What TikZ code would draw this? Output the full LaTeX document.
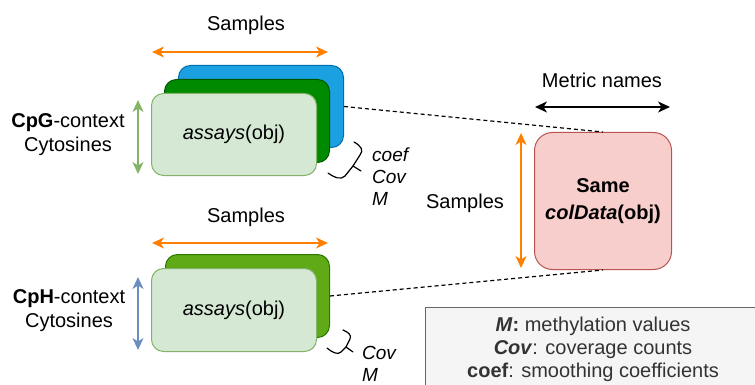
\documentclass[tikz,border=0pt]{standalone}
\usepackage{fontspec}
\setmainfont{Liberation Sans}
\usetikzlibrary{arrows.meta}
\definecolor{dioblue}{HTML}{1BA1E2}
\definecolor{dioblueline}{HTML}{006EAF}
\definecolor{diodkgreen}{HTML}{008A00}
\definecolor{diodkgreenline}{HTML}{005700}
\definecolor{diogreen}{HTML}{60A917}
\definecolor{diogreenline}{HTML}{2D7600}
\definecolor{dioltgreen}{HTML}{D5E8D4}
\definecolor{dioltgreenline}{HTML}{82B366}
\definecolor{dioorange}{HTML}{FF8000}
\definecolor{diobluearrow}{HTML}{6C8EBF}
\definecolor{diopink}{HTML}{F8CECC}
\definecolor{diopinkline}{HTML}{B85450}
\definecolor{diogray}{HTML}{F5F5F5}
\definecolor{diograyline}{HTML}{666666}
\definecolor{diograytext}{HTML}{333333}
\tikzset{
  mainfont/.style={font=\fontsize{20}{24}\selectfont},
  slab/.style={font=\fontsize{19}{22}\selectfont\itshape, align=left, anchor=west, inner sep=0pt},
  sheet/.style={rectangle, rounded corners=12pt, line width=1pt, minimum width=165pt, minimum height=82pt, anchor=north west, inner sep=0pt},
  dimarrow/.style={line width=1.5pt, {Stealth[length=12pt,width=11pt,inset=3.5pt]}-{Stealth[length=12pt,width=11pt,inset=3.5pt]}},
  dashlink/.style={line width=1.2pt, dash pattern=on 4pt off 3pt},
  bracepath/.style={line width=1.2pt, line cap=round, line join=round},
}
\begin{document}
\begin{tikzpicture}[x=1pt,y=-1pt]
\useasboundingbox (0,0) rectangle (755,385);
\clip (0,0) rectangle (755,385);

% top stack
\node[sheet, fill=dioblue, draw=dioblueline] (blue) at (178,65) {};
\node[sheet, fill=diodkgreen, draw=diodkgreenline, minimum height=83pt] (dkg1) at (164,79) {};
\node[sheet, fill=dioltgreen, draw=dioltgreenline, mainfont] (ltg1) at (151,93) {\textit{assays}(obj)};

% bottom stack
\node[sheet, fill=diogreen, draw=diogreenline, minimum width=164pt, minimum height=83pt] (dkg2) at (165,254) {};
\node[sheet, fill=dioltgreen, draw=dioltgreenline, minimum height=83pt, mainfont] (ltg2) at (151,268) {\textit{assays}(obj)};

% colData box
\node[rectangle, rounded corners=18pt, line width=1pt, fill=diopink, draw=diopinkline,
      minimum width=137pt, minimum height=137pt, anchor=north west, inner sep=0pt,
      align=center, font=\fontsize{20}{27}\selectfont\bfseries] (pink) at (534,132)
      {Same\\\textit{colData}(obj)};

% legend
\node[rectangle, line width=1pt, fill=diogray, draw=diograyline,
      minimum width=335pt, minimum height=90pt, anchor=north west, inner sep=0pt] (legend) at (425,307) {};
\node[text=diograytext, align=center, font=\fontsize{20}{23}\selectfont, inner sep=0pt] (legtext) at (593,349)
  {\textbf{\textit{M}:} methylation values\\\textbf{\textit{Cov}}: coverage counts\\\textbf{coef}: smoothing coefficients};

% labels
\node[mainfont] (samp1) at (246,25) {Samples};
\node[mainfont] (samp2) at (246,217) {Samples};
\node[mainfont] (samp3) at (465,203) {Samples};
\node[mainfont] (metric) at (602,80) {Metric names};
\node[mainfont, align=center] (cpg) at (68,135) {\textbf{CpG}-context\\Cytosines};
\node[mainfont, align=center] (cph) at (69,311) {\textbf{CpH}-context\\Cytosines};
\node[slab] (toplist) at (372,177) {coef\\Cov\\M};
\node[slab] (botlist) at (362,364) {Cov\\M};

% dimension arrows
\coordinate (a1) at (152,52); \coordinate (b1) at (328,52);
\coordinate (a2) at (152,243); \coordinate (b2) at (328,243);
\coordinate (a3) at (138,100); \coordinate (b3) at (138,174);
\coordinate (a4) at (138,277); \coordinate (b4) at (138,350);
\coordinate (a5) at (521,133); \coordinate (b5) at (521,268);
\coordinate (a6) at (535,107); \coordinate (b6) at (670,107);
\draw[dimarrow, dioorange] (a1) -- (b1);
\draw[dimarrow, dioorange] (a2) -- (b2);
\draw[dimarrow, dioltgreenline] (a3) -- (b3);
\draw[dimarrow, diobluearrow] (a4) -- (b4);
\draw[dimarrow, dioorange] (a5) -- (b5);
\draw[dimarrow, black] (a6) -- (b6);

% dashed links
\draw[dashlink] (blue.east) -- (pink.north);
\draw[dashlink] (dkg2.east) -- (pink.south);

% braces
\draw[bracepath] (354,142) .. controls (361,146) and (364,150) .. (360,155) -- (353,166)
   -- (345,176) .. controls (341,180) and (335,178) .. (328,173);
\draw[bracepath] (353,166) -- (361,171);
\draw[bracepath] (343,330) .. controls (348,332) and (352,335) .. (350,339) -- (346,347)
   -- (341,352) .. controls (338,355) and (333,353) .. (327,348);
\draw[bracepath] (346,347) -- (353,352);
\end{tikzpicture}
\end{document}
